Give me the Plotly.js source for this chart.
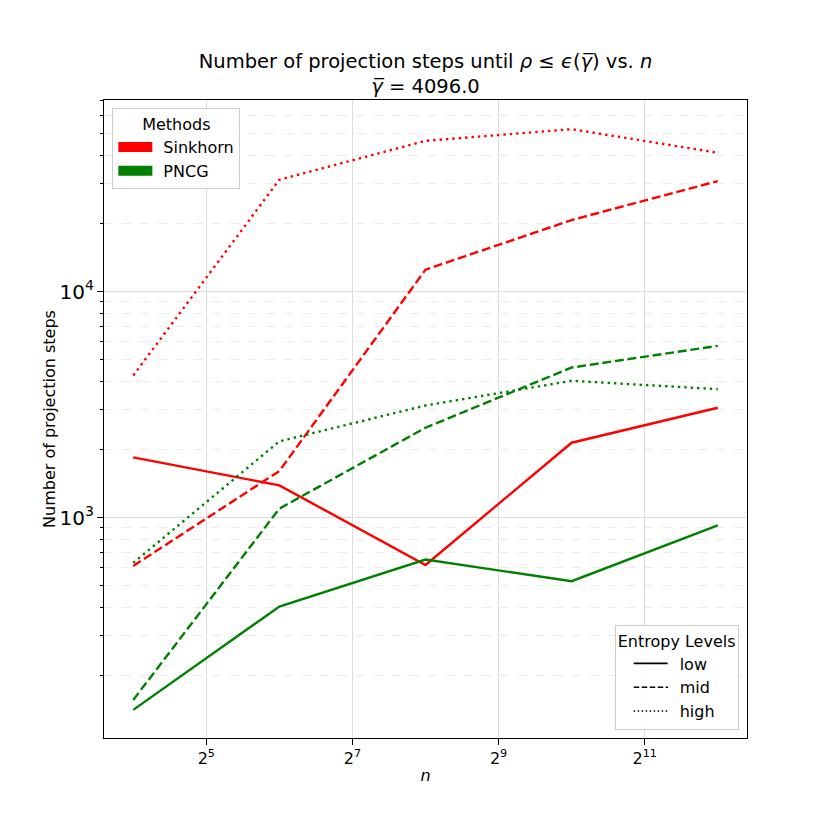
<!DOCTYPE html>
<html>
<head>
<meta charset="utf-8">
<script src="https://cdn.plot.ly/plotly-3.0.1.min.js"></script>
<style>html,body{margin:0;padding:0;background:#fff;}#chart{width:830px;height:830px;}</style>
</head>
<body>
<div id="chart"></div>
<script>
// Problem sizes n
const nValues = [16, 64, 256, 1024, 4096];

// Sinkhorn projection steps per entropy level
const sinkhornLow  = [1847, 1389, 617, 2145, 3063];
const sinkhornMid  = [611, 1607, 12510, 20740, 30850];
const sinkhornHigh = [4255, 31260, 46480, 52350, 41150];

// PNCG projection steps per entropy level
const pncgLow  = [141, 404, 652, 523, 925];
const pncgMid  = [156, 1096, 2499, 4615, 5756];
const pncgHigh = [630, 2175, 3135, 4031, 3701];

const methods = ['Sinkhorn', 'PNCG'];
const entropyLevels = ['low', 'mid', 'high'];

const xTickVals = [32, 128, 512, 2048];
const xTickText = ['2<sup>5</sup>', '2<sup>7</sup>', '2<sup>9</sup>', '2<sup>11</sup>'];

const colors = {Sinkhorn: '#ff0000', PNCG: '#008000'};
const dashes = {low: 'solid', mid: '8.9px,3.8px', high: '2.4px,4px'};
// legend handle styles: short leading gap, 34px long handle, then blank
const legendDashes = {
  low:  '0px,13px,34px,300px',
  mid:  '0px,13px,5.6px,2.4px,5.6px,2.4px,5.6px,2.4px,5.6px,2.4px,2.4px,300px',
  high: '0px,13px,1.5px,2.5px,1.5px,2.5px,1.5px,2.5px,1.5px,2.5px,1.5px,2.5px,1.5px,2.5px,1.5px,2.5px,1.5px,2.5px,1.5px,300px'
};
const patchDash = '34px,300px';

const series = {
  Sinkhorn: {low: sinkhornLow, mid: sinkhornMid, high: sinkhornHigh},
  PNCG: {low: pncgLow, mid: pncgMid, high: pncgHigh}
};

const traces = [];
methods.forEach(m => {
  entropyLevels.forEach(lvl => {
    traces.push({
      x: nValues, y: series[m][lvl], type: 'scatter', mode: 'lines',
      line: {color: colors[m], width: 2.4, dash: dashes[lvl]},
      showlegend: false, hoverinfo: 'x+y'
    });
  });
});
// Methods legend (patches)
methods.forEach(m => {
  traces.push({
    x: [null], y: [null], type: 'scatter', mode: 'lines',
    line: {width: 12.5, color: colors[m], dash: patchDash},
    name: m, legend: 'legend', showlegend: true
  });
});
// Entropy legend (line styles)
entropyLevels.forEach(lvl => {
  traces.push({
    x: [null], y: [null], type: 'scatter', mode: 'lines',
    line: {color: '#000', width: 1.6, dash: legendDashes[lvl]},
    name: lvl, legend: 'legend2', showlegend: true
  });
});

const FF = 'DejaVu Sans, sans-serif';
const font = {family: FF, size: 16, color: '#000'};

const layout = {
  width: 830, height: 830,
  paper_bgcolor: '#fff', plot_bgcolor: '#fff',
  font: font,
  margin: {l: 103.5, r: 83, t: 99.5, b: 91.5, pad: 0},
  title: {
    text: 'Number of projection steps until <i>ρ</i> ≤ <i>ϵ</i>(<i>γ̅</i>) vs. <i>n</i><br><i>γ̅</i> = 4096.0',
    font: {family: FF, size: 19.5, color: '#000'},
    x: 0.5, xref: 'paper', xanchor: 'center',
    y: 1 - 68 / 830, yref: 'container', yanchor: 'top'
  },
  xaxis: {
    type: 'log',
    range: [3.6 * Math.LOG10E * Math.LN2, 12.4 * Math.LOG10E * Math.LN2],
    tickmode: 'array', tickvals: xTickVals, ticktext: xTickText,
    ticks: 'outside', ticklen: 5.6, tickwidth: 1.2, tickcolor: '#000',
    showgrid: true, gridcolor: '#dcdcdc', gridwidth: 1.2,
    showline: true, linecolor: '#000', linewidth: 1.3, mirror: true,
    zeroline: false,
    tickfont: {family: FF, size: 16},
    title: {text: '<i>n</i>', font: {family: FF, size: 16}, standoff: 2}
  },
  yaxis: {
    type: 'log',
    range: [2.0247, 4.848],
    dtick: 1, exponentformat: 'power',
    ticks: 'outside', ticklen: 5.6, tickwidth: 1.2, tickcolor: '#000',
    showgrid: true, gridcolor: '#dcdcdc', gridwidth: 1.2,
    minor: {dtick: 'D1', ticks: 'outside', ticklen: 3.2, tickwidth: 1, tickcolor: '#000',
            showgrid: true, gridcolor: '#ececec', griddash: 'dash', gridwidth: 1},
    showline: true, linecolor: '#000', linewidth: 1.3, mirror: true,
    zeroline: false,
    tickfont: {family: FF, size: 16},
    title: {text: 'Number of projection steps', font: {family: FF, size: 16}, standoff: 0}
  },
  legend: {
    x: 0.013, y: 0.987, xanchor: 'left', yanchor: 'top',
    bgcolor: 'rgba(255,255,255,0.85)', bordercolor: '#cccccc', borderwidth: 1,
    title: {text: 'Methods', side: 'top center', font: {family: FF, size: 16}},
    font: {family: FF, size: 16},
    traceorder: 'normal', itemwidth: 40, tracegroupgap: 0
  },
  legend2: {
    x: 0.987, y: 0.013, xanchor: 'right', yanchor: 'bottom',
    bgcolor: 'rgba(255,255,255,0.85)', bordercolor: '#cccccc', borderwidth: 1,
    title: {text: 'Entropy Levels', side: 'top center', font: {family: FF, size: 16}},
    font: {family: FF, size: 16},
    traceorder: 'normal', itemwidth: 54, tracegroupgap: 0
  },
  showlegend: true
};

Plotly.newPlot('chart', traces, layout, {displayModeBar: false, staticPlot: true});
</script>
</body>
</html>
